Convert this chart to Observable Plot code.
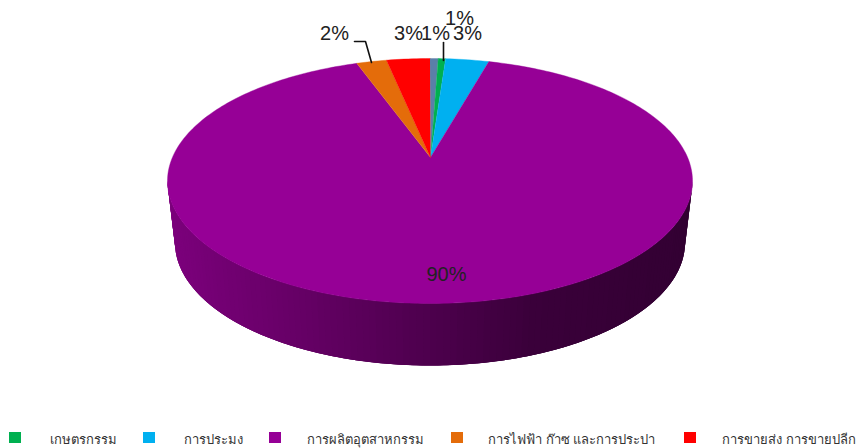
<!DOCTYPE html>
<html><head><meta charset="utf-8">
<script src="https://cdn.jsdelivr.net/npm/d3@7"></script>
<script src="https://cdn.jsdelivr.net/npm/@observablehq/plot@0.6"></script>
<style>
html,body{margin:0;padding:0;background:#fff}
#legend{position:relative;height:28px;width:861px;font:13px "Liberation Sans",Arial,sans-serif;color:#333}
#legend i{position:absolute;top:12px;width:12px;height:11px}
#legend span{position:absolute;top:9px;white-space:nowrap}
</style></head><body>
<div id="chart"></div><div id="legend"></div>
<script>
// Slices clockwise from 12 o'clock
const sliceNames = ["อื่น ๆ","เกษตรกรรม","การประมง","การผลิตอุตสาหกรรม","การไฟฟ้า ก๊าซ และการประปา","การขายส่ง การขายปลีก"];
const sliceShares = [0.5,0.45,2.65,91.9,1.85,2.65]; // angular share
const sliceLabels = ["1%","1%","3%","90%","2%","3%"];
const sliceColors = ["#5b7fa8","#00b050","#00b0f0","#960096","#e46c0a","#ff0000"];
const legendOrder = [1,2,3,4,5];
const legendSwatchX = [9,143,269,451,684];
const legendTextX = [50,184,307,488,722];

// pixel layout
const topEllipse = {cx:429.5, cy:180.5, rx:262.5, ry:122.5};
const bottomEllipse = {cx:429.5, cy:242, rx:255, ry:123};
const apex = {x:430, y:157};
const labelAt = [[459,18],[435,33],[467,33],[446,274],[334,33],[408,33]];
const rim = (e,t)=>({x:e.cx+e.rx*Math.sin(t), y:e.cy-e.ry*Math.cos(t)});

const total = d3.sum(sliceShares);
let acc = 0;
const wedges = [];
sliceShares.forEach((v,i)=>{
  const a0 = acc/total*2*Math.PI; acc += v;
  const a1 = acc/total*2*Math.PI;
  const n = Math.max(4,Math.ceil((a1-a0)*60));
  wedges.push({k:"s"+i,c:sliceColors[i],...apex});
  for(let j=0;j<=n;j++) wedges.push({k:"s"+i,c:sliceColors[i],...rim(topEllipse,a0+(a1-a0)*j/n)});
});

// side wall of the disc, shaded from left (light) to right (dark).
// Strips are painted in order; each overlaps the next so no seams appear.
const shade = d3.scaleLinear().domain([170,300,430,550,690]).range(["#7c007c","#680068","#500050","#3a003a","#330033"]);
const wall = [];
const N = 120;
for(let i=N-1;i>=0;i--){
  const t0 = Math.PI/2+i/N*Math.PI, t1 = Math.PI/2+Math.min(i+3,N)/N*Math.PI;
  const col = shade(rim(topEllipse,t0).x);
  const pts = [];
  for(let j=0;j<=4;j++) pts.push(rim(topEllipse,t0+(t1-t0)*j/4));
  for(let j=4;j>=0;j--) pts.push(rim(bottomEllipse,t0+(t1-t0)*j/4));
  pts.forEach(p=>wall.push({k:"w"+i,c:col,...p}));
}

const labels = sliceLabels.map((t,i)=>({t,x:labelAt[i][0],y:labelAt[i][1]}));
const leaders = [
  {k:"a",x:354,y:41},{k:"a",x:365,y:41},{k:"a",x:371,y:62},
  {k:"b",x:443,y:42},{k:"b",x:443,y:60}
];

document.getElementById("chart").append(Plot.plot({
  width:861,height:420,margin:0,
  style:{background:"#fff"},
  x:{domain:[0,861],range:[0,861],axis:null},
  y:{domain:[0,420],range:[0,420],axis:null},
  marks:[
    Plot.line(wall,{x:"x",y:"y",z:"k",fill:"c",stroke:"none",sort:null}),
    Plot.line(wedges,{x:"x",y:"y",z:"k",fill:"c",stroke:"c",strokeWidth:0.4}),
    Plot.line(leaders,{x:"x",y:"y",z:"k",stroke:"#111",strokeWidth:1.6}),
    Plot.text(labels,{x:"x",y:"y",text:"t",fontSize:20,fill:"#222",fontFamily:"Liberation Sans, Arial, sans-serif"})
  ]
}));

const lg = document.getElementById("legend");
legendOrder.forEach((s,i)=>{
  const sw=document.createElement("i");
  sw.style.left=legendSwatchX[i]+"px"; sw.style.background=sliceColors[s];
  const tx=document.createElement("span");
  tx.style.left=legendTextX[i]+"px"; tx.textContent=sliceNames[s];
  lg.append(sw,tx);
});
</script>
</body></html>
